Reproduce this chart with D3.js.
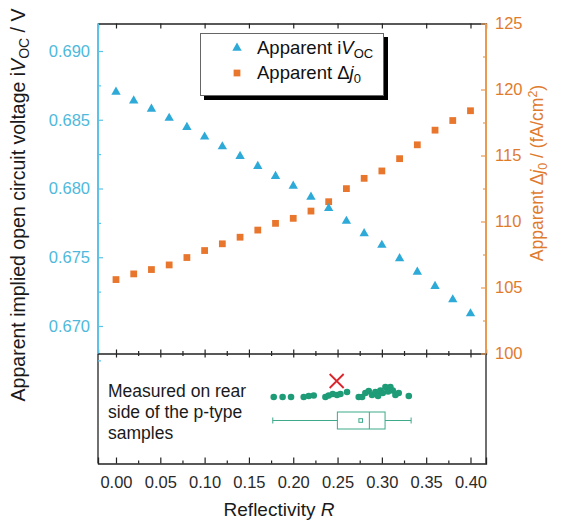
<!DOCTYPE html>
<html><head><meta charset="utf-8">
<script src="https://cdn.jsdelivr.net/npm/d3@7"></script>
<style>body{margin:0;background:#fff;} svg{display:block;font-family:"Liberation Sans",Arial,sans-serif;}</style>
</head><body>
<svg id="c" width="566" height="525"></svg>
<script>
// ---- data ----
const reflectivity = [0.00,0.02,0.04,0.06,0.08,0.10,0.12,0.14,0.16,0.18,0.20,0.22,0.24,0.26,0.28,0.30,0.32,0.34,0.36,0.38,0.40];
const ivoc = [0.68702,0.68638,0.68578,0.68512,0.68446,0.68376,0.68305,0.68235,0.68162,0.68089,0.68018,0.67938,0.67856,0.67763,0.67673,0.67588,0.67491,0.67393,0.67289,0.67192,0.67090];
const dj0 = [105.60,106.03,106.36,106.71,107.27,107.80,108.31,108.81,109.35,109.86,110.24,110.79,111.50,112.49,113.27,113.83,114.76,115.81,116.92,117.65,118.39];
const measuredR = [0.178,0.188,0.1975,0.2118,0.2175,0.2231,0.2363,0.240,0.2446,0.2494,0.2532,0.2607,0.2739,0.2777,0.2814,0.2852,0.2889,0.2927,0.2957,0.2983,0.301,0.304,0.307,0.3096,0.3123,0.3153,0.319,0.3304];
const dotJitter = [0,0,0,0,0.1,0.15,0,0.15,0.3,0.2,0.3,0.5,0,0,0.4,0.6,0.2,0.5,0.1,0.65,0.4,1,0.55,1,0.65,0.2,0.4,0.1];
const markedR = 0.249;
const boxStats = {min:0.1769, q1:0.2498, median:0.2859, mean:0.2761, q3:0.3036, max:0.333};
const xTicks = [0.00,0.05,0.10,0.15,0.20,0.25,0.30,0.35,0.40];
const yLeftTicks = [0.670,0.675,0.680,0.685,0.690];
const yRightTicks = [100,105,110,115,120,125];

// ---- layout ----
const L=98, R=486, T=23.5, M=353.5, B=463.5;
const blue="#2EAAD8", blueAxis="#5CC2E6", blueText="#4DB9DC";
const orange="#E8762D", orangeAxis="#E89A50", orangeText="#E07B2E";
const green="#1E9B77", red="#D9262C";
const svg=d3.select("#c");

const x=d3.scaleLinear().domain([-0.0203,0.4175]).range([L,R]);
const yL=d3.scaleLinear().domain([0.668,0.692]).range([M,T]);
const yR=d3.scaleLinear().domain([100,125]).range([M,T]);

const minorX = d3.range(0,17).map(i=>i*0.025).filter(v=>Math.abs(v/0.05-Math.round(v/0.05))>0.1);

const gTop=svg.append("g").attr("transform",`translate(0,${T})`).call(d3.axisTop(x).tickValues(xTicks).tickSize(-5).tickFormat(""));
const gMid1=svg.append("g").attr("transform",`translate(0,${M})`).call(d3.axisBottom(x).tickValues(xTicks).tickSize(-4).tickFormat(""));
const gMid2=svg.append("g").attr("transform",`translate(0,${M})`).call(d3.axisBottom(x).tickValues(xTicks).tickSize(4).tickFormat(""));
const gMid3=svg.append("g").attr("transform",`translate(0,${M})`).call(d3.axisBottom(x).tickValues(minorX).tickSize(-2.5).tickFormat(""));
const gMid4=svg.append("g").attr("transform",`translate(0,${M})`).call(d3.axisBottom(x).tickValues(minorX).tickSize(2.5).tickFormat(""));
const gBot=svg.append("g").attr("transform",`translate(0,${B})`).call(d3.axisBottom(x).tickValues(xTicks).tickSize(-6).tickPadding(13).tickFormat(d3.format(".2f")));
const gBotMinor=svg.append("g").attr("transform",`translate(0,${B})`).call(d3.axisBottom(x).tickValues(minorX).tickSize(-3).tickFormat(""));
[gTop,gMid1,gMid2,gMid3,gMid4,gBot,gBotMinor].forEach(g=>{
  g.selectAll("path.domain").attr("stroke","#222").attr("stroke-width",1.3);
  g.selectAll(".tick line").attr("stroke","#222").attr("stroke-width",1.2);
});
gBot.selectAll("text").attr("font-size",16.5).attr("fill","#2a2a2a").attr("font-family","Liberation Sans, Arial, sans-serif");
[gMid2,gMid3,gMid4,gBotMinor].forEach(g=>g.select("path.domain").remove());
svg.append("line").attr("x1",L).attr("x2",L).attr("y1",M).attr("y2",B).attr("stroke","#222").attr("stroke-width",1.3);
svg.append("line").attr("x1",R).attr("x2",R).attr("y1",M).attr("y2",B).attr("stroke","#222").attr("stroke-width",1.3);

// left axis
const minorL=[0.6675,0.6725,0.6775,0.6825,0.6875];
const gL=svg.append("g").attr("transform",`translate(${L},0)`).call(d3.axisLeft(yL).tickValues(yLeftTicks).tickSize(-5).tickPadding(8).tickFormat(d3.format(".3f")));
const gLm=svg.append("g").attr("transform",`translate(${L},0)`).call(d3.axisLeft(yL).tickValues(minorL).tickSize(-3).tickFormat(""));
gLm.select("path.domain").remove();
[gL,gLm].forEach(g=>{g.selectAll("path.domain").attr("stroke",blueAxis).attr("stroke-width",2);g.selectAll(".tick line").attr("stroke",blueAxis).attr("stroke-width",1.2);});
gL.selectAll("text").attr("font-size",16.5).attr("fill",blueText).attr("font-family","Liberation Sans, Arial, sans-serif");
gL.select("path.domain").attr("d",`M0,${T}V${M}`);

// right axis
const minorR=[102.5,107.5,112.5,117.5,122.5];
const gR=svg.append("g").attr("transform",`translate(${R},0)`).call(d3.axisRight(yR).tickValues(yRightTicks).tickSize(-5).tickPadding(9));
const gRm=svg.append("g").attr("transform",`translate(${R},0)`).call(d3.axisRight(yR).tickValues(minorR).tickSize(-3).tickFormat(""));
gRm.select("path.domain").remove();
[gR,gRm].forEach(g=>{g.selectAll("path.domain").attr("stroke",orangeAxis).attr("stroke-width",2);g.selectAll(".tick line").attr("stroke",orangeAxis).attr("stroke-width",1.2);});
gR.selectAll("text").attr("font-size",16.5).attr("fill",orangeText).attr("font-family","Liberation Sans, Arial, sans-serif");
gR.select("path.domain").attr("d",`M0,${T}V${M}`);

// series
const tri=d3.symbol().type(d3.symbolTriangle).size(38);
const sq=d3.symbol().type(d3.symbolSquare).size(46);
svg.append("g").selectAll("path").data(reflectivity).join("path")
  .attr("d",sq).attr("fill",orange)
  .attr("transform",(d,i)=>`translate(${x(d)},${yR(dj0[i])})`);
svg.append("g").selectAll("path").data(reflectivity).join("path")
  .attr("d",tri).attr("fill",blue)
  .attr("transform",(d,i)=>`translate(${x(d)},${yL(ivoc[i])})`);

// legend
const lg=svg.append("g");
lg.append("rect").attr("x",204).attr("y",37).attr("width",184).attr("height",63).attr("fill","#000");
lg.append("rect").attr("x",200.5).attr("y",33.5).attr("width",183).attr("height",62).attr("fill","#fff").attr("stroke","#666").attr("stroke-width",1);
lg.append("path").attr("d",tri).attr("fill",blue).attr("transform","translate(237,48)");
lg.append("path").attr("d",sq).attr("fill",orange).attr("transform","translate(237,73)");
const t1=lg.append("text").attr("x",257).attr("y",54).attr("font-size",18.5).attr("fill","#111");
t1.append("tspan").text("Apparent i");
t1.append("tspan").attr("font-style","italic").text("V");
t1.append("tspan").attr("font-size",13).attr("dy",4).text("OC");
const t2=lg.append("text").attr("x",257).attr("y",79).attr("font-size",18.5).attr("fill","#111");
t2.append("tspan").text("Apparent Δ");
t2.append("tspan").attr("font-style","italic").text("j");
t2.append("tspan").attr("font-size",13).attr("dy",4).text("0");

// axis titles
const lt=svg.append("text").attr("transform","translate(25,205) rotate(-90)").attr("text-anchor","middle").attr("font-size",19.5).attr("fill","#1a1a1a");
lt.append("tspan").text("Apparent implied open circuit voltage i");
lt.append("tspan").attr("font-style","italic").text("V");
lt.append("tspan").attr("font-size",14).attr("dy",4).text("OC");
lt.append("tspan").attr("dy",-4).text(" / V");
const rt=svg.append("text").attr("transform","translate(543,173) rotate(-90)").attr("text-anchor","middle").attr("font-size",17.5).attr("fill",orangeText);
rt.append("tspan").text("Apparent Δ");
rt.append("tspan").attr("font-style","italic").text("j");
rt.append("tspan").attr("font-size",12.5).attr("dy",4).text("0");
rt.append("tspan").attr("dy",-4).text(" / (fA/cm");
rt.append("tspan").attr("font-size",12.5).attr("dy",-6).text("2");
rt.append("tspan").attr("dy",6).text(")");
const xt=svg.append("text").attr("x",279).attr("y",516).attr("text-anchor","middle").attr("font-size",19).attr("fill","#1a1a1a");
xt.append("tspan").text("Reflectivity  ");
xt.append("tspan").attr("font-style","italic").text("R");

// bottom panel
const bt=svg.append("text").attr("font-size",17.5).attr("fill","#1a1a1a");
["Measured on rear","side of the p-type","samples"].forEach((s,i)=>bt.append("tspan").attr("x",108).attr("y",397+i*21).text(s));
svg.append("g").selectAll("circle").data(measuredR).join("circle")
  .attr("cx",d=>x(d)).attr("cy",(d,i)=>397-dotJitter[i]*10).attr("r",3.3).attr("fill",green);
const cx=x(markedR), cy=381;
svg.append("path").attr("d",`M${cx-7},${cy-7}L${cx+7},${cy+7}M${cx-7},${cy+7}L${cx+7},${cy-7}`).attr("stroke",red).attr("stroke-width",1.8);
const by=420.5;
const bx=svg.append("g").attr("stroke",green).attr("stroke-width",1).attr("fill","none").attr("opacity",0.85);
bx.append("line").attr("x1",x(boxStats.min)).attr("x2",x(boxStats.q1)).attr("y1",by).attr("y2",by);
bx.append("line").attr("x1",x(boxStats.q3)).attr("x2",x(boxStats.max)).attr("y1",by).attr("y2",by);
bx.append("line").attr("x1",x(boxStats.min)).attr("x2",x(boxStats.min)).attr("y1",by-3).attr("y2",by+3);
bx.append("line").attr("x1",x(boxStats.max)).attr("x2",x(boxStats.max)).attr("y1",by-3).attr("y2",by+3);
bx.append("rect").attr("x",x(boxStats.q1)).attr("y",by-8.5).attr("width",x(boxStats.q3)-x(boxStats.q1)).attr("height",17);
bx.append("line").attr("x1",x(boxStats.median)).attr("x2",x(boxStats.median)).attr("y1",by-8.5).attr("y2",by+8.5);
bx.append("rect").attr("x",x(boxStats.mean)-1.8).attr("y",by-1.8).attr("width",3.6).attr("height",3.6);
</script>
</body></html>
